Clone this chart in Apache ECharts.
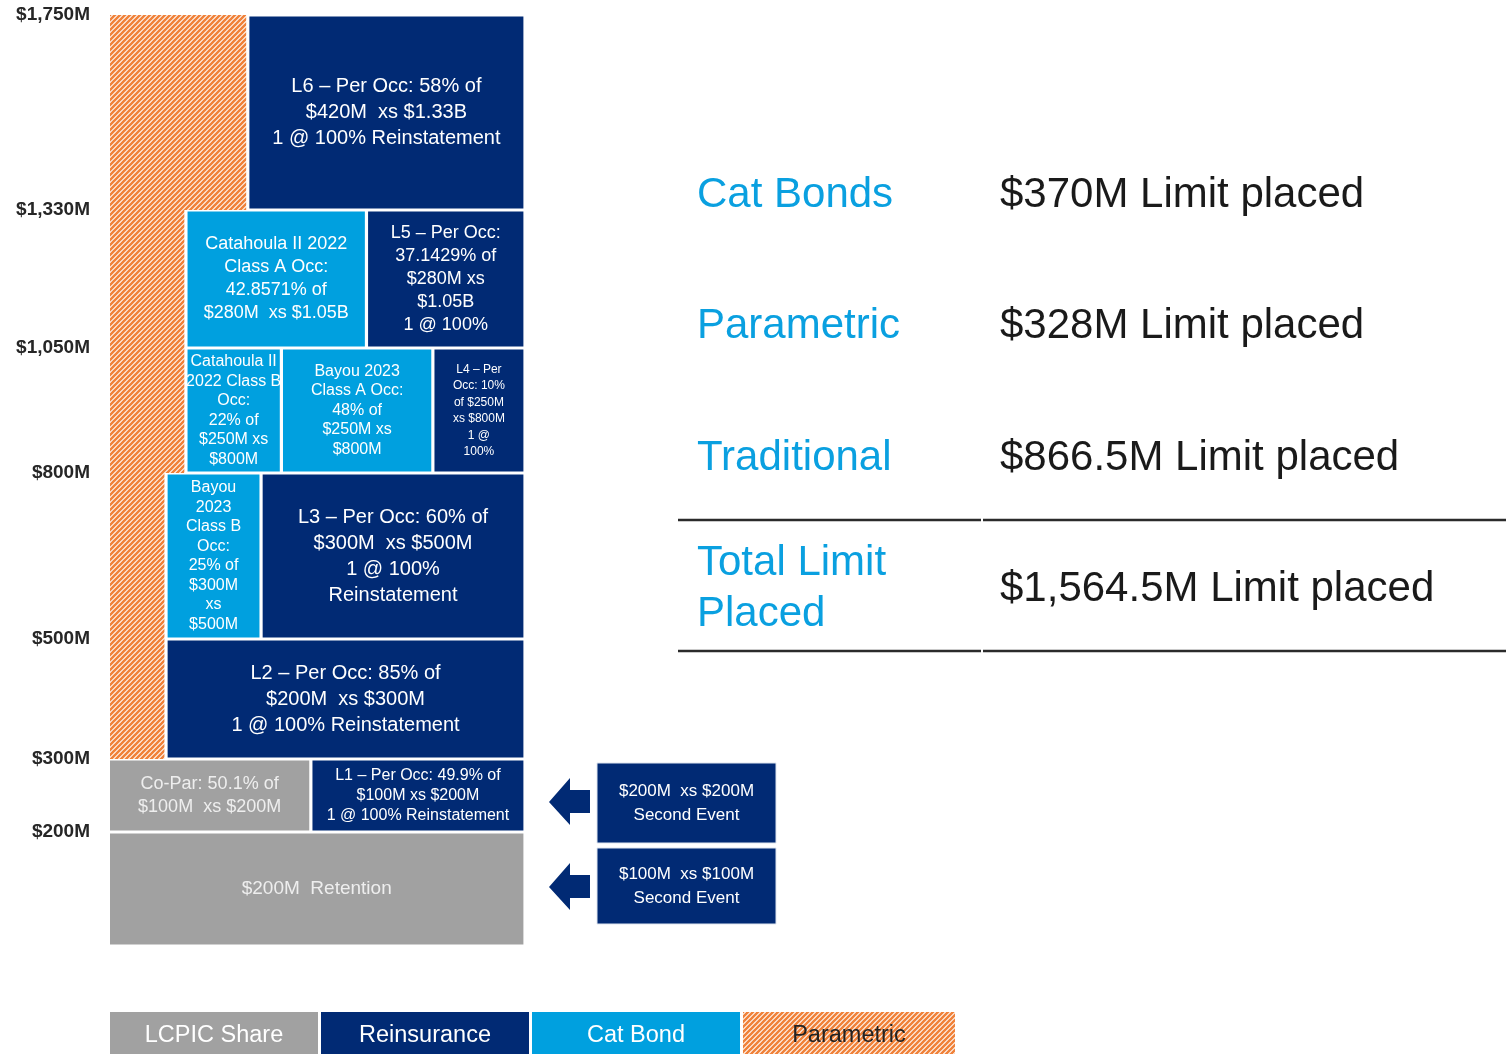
<!DOCTYPE html>
<html>
<head>
<meta charset="utf-8">
<title>Reinsurance tower</title>
<script src="https://cdn.jsdelivr.net/npm/echarts@6/dist/echarts.min.js"></script>
<style>
  html, body { margin: 0; padding: 0; background: #fff; }
  #chart { width: 1506px; height: 1054px; }
</style>
</head>
<body>
<div id="chart"></div>
<script>
// tower attachment points ($M) and their axis labels
const levels = [0, 200, 300, 500, 800, 1050, 1330, 1750];
const tickLabels = ['$200M', '$300M', '$500M', '$800M', '$1,050M', '$1,330M', '$1,750M'];

// one entry per block of the tower
const blockType = [
  'LCPIC Share', 'LCPIC Share', 'Reinsurance',
  'Parametric', 'Reinsurance',
  'Parametric', 'Cat Bond', 'Reinsurance',
  'Parametric', 'Cat Bond', 'Cat Bond', 'Reinsurance',
  'Parametric', 'Cat Bond', 'Reinsurance',
  'Parametric', 'Reinsurance'
];
const blockLow = [0, 200, 200, 300, 300, 500, 500, 500, 800, 800, 800, 800, 1050, 1050, 1050, 1330, 1330];
const blockHigh = [200, 300, 300, 500, 500, 800, 800, 800, 1050, 1050, 1050, 1050, 1330, 1330, 1330, 1750, 1750];
const blockText = [
  '$200M  Retention',
  'Co-Par: 50.1% of\n$100M  xs $200M',
  'L1 – Per Occ: 49.9% of\n$100M xs $200M\n1 @ 100% Reinstatement',
  '',
  'L2 – Per Occ: 85% of\n$200M  xs $300M\n1 @ 100% Reinstatement',
  '',
  'Bayou\n2023\nClass B\nOcc:\n25% of\n$300M\nxs\n$500M',
  'L3 – Per Occ: 60% of\n$300M  xs $500M\n1 @ 100%\nReinstatement',
  '',
  'Catahoula II\n2022 Class B\nOcc:\n22% of\n$250M xs\n$800M',
  'Bayou 2023\nClass A Occ:\n48% of\n$250M xs\n$800M',
  'L4 – Per\nOcc: 10%\nof $250M\nxs $800M\n1 @\n100%',
  '',
  'Catahoula II 2022\nClass A Occ:\n42.8571% of\n$280M  xs $1.05B',
  'L5 – Per Occ:\n37.1429% of\n$280M xs\n$1.05B\n1 @ 100%',
  '',
  'L6 – Per Occ: 58% of\n$420M  xs $1.33B\n1 @ 100% Reinstatement'
];

// summary table
const summaryNames = ['Cat Bonds', 'Parametric', 'Traditional', 'Total Limit\nPlaced'];
const summaryLimits = [370, 328, 866.5, 1564.5];

const secondEvents = ['$200M  xs $200M\nSecond Event', '$100M  xs $100M\nSecond Event'];
const legendNames = ['LCPIC Share', 'Reinsurance', 'Cat Bond', 'Parametric'];

// ---- layout / style ----
// display height of each band between levels (tower is not drawn to scale)
const bandWeight = [114, 73, 120, 166, 125, 138, 195];
// horizontal extent of each block across the tower, 0..100
const blockSpan = [
  [0, 100], [0, 48.4], [48.4, 100],
  [0, 13.5], [13.5, 100],
  [0, 13.5], [13.5, 36.4], [36.4, 100],
  [0, 18.3], [18.3, 41.3], [41.3, 77.8], [77.8, 100],
  [0, 18.3], [18.3, 61.8], [61.8, 100],
  [0, 33.2], [33.2, 100]
];
const blockFont = [19, 18, 16, 0, 20, 0, 16, 20, 0, 16, 16, 12, 0, 18, 18, 0, 20];
const blockLine = [22, 23, 20, 0, 26, 0, 19.5, 26, 0, 19.5, 19.5, 16.5, 0, 23, 23, 0, 26];

const NAVY = '#012a74';
const BLUE = '#00a0df';
const GREY = '#a1a1a1';
const ORANGE = '#f0823a';
const FONT = "'Liberation Sans', Arial, sans-serif";

const cum = [0];
bandWeight.forEach(function (w, i) { cum.push(cum[i] + w); });

function toScale(v) {
  for (let i = 0; i < levels.length - 1; i++) {
    if (v <= levels[i + 1]) {
      return cum[i] + (v - levels[i]) / (levels[i + 1] - levels[i]) * bandWeight[i];
    }
  }
  return cum[cum.length - 1];
}

// hatch for parametric
const hatch = document.createElement('canvas');
hatch.width = 5; hatch.height = 5;
(function () {
  const c = hatch.getContext('2d');
  c.fillStyle = '#fff';
  c.fillRect(0, 0, 5, 5);
  c.strokeStyle = ORANGE;
  c.lineWidth = 2.6;
  c.beginPath();
  c.moveTo(0, 5); c.lineTo(5, 0);
  c.moveTo(-1, 1); c.lineTo(1, -1);
  c.moveTo(4, 6); c.lineTo(6, 4);
  c.stroke();
})();
const hatchFill = { image: hatch, repeat: 'repeat' };

const typeFill = {
  'LCPIC Share': GREY,
  'Reinsurance': NAVY,
  'Cat Bond': BLUE,
  'Parametric': hatchFill
};

function makeSeries(type) {
  const idx = [];
  blockType.forEach(function (t, i) { if (t === type) idx.push(i); });
  return {
    type: 'custom',
    name: type,
    coordinateSystem: 'cartesian2d',
    data: idx.map(function (i) {
      return [blockSpan[i][0], blockSpan[i][1], blockLow[i], blockHigh[i]];
    }),
    renderItem: function (params, api) {
      const i = idx[params.dataIndex];
      const a = api.coord([api.value(0), toScale(api.value(3))]);
      const b = api.coord([api.value(1), toScale(api.value(2))]);
      const hatched = type === 'Parametric';
      const g = 1.6;
      const x = a[0] + (hatched || api.value(0) === 0 ? 0 : g);
      const y = a[1] + (hatched ? 0 : g);
      const w = b[0] - x - g;
      const h = b[1] - a[1] - (hatched ? 0 : 2 * g);
      const el = {
        type: 'rect',
        shape: { x: x, y: y, width: w, height: h },
        style: { fill: typeFill[type] }
      };
      if (blockText[i]) {
        el.textContent = {
          style: {
            text: blockText[i],
            fill: type === 'LCPIC Share' ? '#eeeeee' : '#ffffff',
            fontFamily: FONT,
            fontSize: blockFont[i],
            lineHeight: blockLine[i],
            align: 'center'
          }
        };
        el.textConfig = { position: 'inside' };
      }
      return el;
    }
  };
}

const chart = echarts.init(document.getElementById('chart'));

const graphics = [];

// summary table on the right
const rowY = [195, 326, 458, 589];
summaryNames.forEach(function (n, i) {
  graphics.push({
    type: 'text', x: 697, y: rowY[i], z: 10,
    style: {
      text: n, fill: '#0aa0e0', fontFamily: FONT, fontSize: 42,
      lineHeight: 51, verticalAlign: 'middle'
    }
  });
  graphics.push({
    type: 'text', x: 1000, y: rowY[i], z: 10,
    style: {
      text: '$' + summaryLimits[i].toLocaleString('en-US') + 'M Limit placed',
      fill: '#1a1a1a', fontFamily: FONT, fontSize: 42, verticalAlign: 'middle'
    }
  });
});
[520, 651].forEach(function (y) {
  graphics.push({ type: 'line', shape: { x1: 678, y1: y, x2: 981, y2: y }, style: { stroke: '#2b2b2b', lineWidth: 2.5 } });
  graphics.push({ type: 'line', shape: { x1: 983, y1: y, x2: 1506, y2: y }, style: { stroke: '#2b2b2b', lineWidth: 2.5 } });
});

// second event boxes with arrows
const evTop = [763, 848];
const evH = [80, 76];
secondEvents.forEach(function (t, i) {
  graphics.push({
    type: 'rect', shape: { x: 597, y: evTop[i], width: 179, height: evH[i] },
    style: { fill: NAVY, stroke: '#dfe5ef', lineWidth: 1 },
    textContent: {
      style: { text: t, fill: '#fff', fontFamily: FONT, fontSize: 17, lineHeight: 24, align: 'center' }
    },
    textConfig: { position: 'inside' }
  });
  const cy = [802, 887][i];
  graphics.push({
    type: 'polygon',
    shape: {
      points: [[549, cy], [570, cy - 24], [570, cy - 12], [590, cy - 12],
               [590, cy + 11], [570, cy + 11], [570, cy + 23]]
    },
    style: { fill: NAVY }
  });
});

// legend boxes
const legX = [110, 321, 532, 743];
const legW = [208, 208, 208, 212];
legendNames.forEach(function (n, i) {
  graphics.push({
    type: 'rect', shape: { x: legX[i], y: 1012, width: legW[i], height: 48 },
    style: { fill: typeFill[n] },
    textContent: {
      style: {
        text: n, fill: n === 'Parametric' ? '#222' : '#fff',
        fontFamily: FONT, fontSize: 23.5
      }
    },
    textConfig: { position: 'inside' }
  });
});

chart.setOption({
  animation: false,
  grid: { left: 110, right: 981, top: 15, bottom: 108 },
  xAxis: { type: 'value', min: 0, max: 100, show: false },
  yAxis: {
    type: 'value',
    min: 0,
    max: cum[cum.length - 1],
    axisLine: { show: false },
    axisTick: { show: false },
    splitLine: { show: false },
    axisLabel: {
      customValues: levels.slice(1).map(toScale),
      margin: 20,
      color: '#262626',
      fontFamily: FONT,
      fontWeight: 'bold',
      fontSize: 19,
      formatter: function (v) {
        let best = 0;
        levels.slice(1).forEach(function (l, k) {
          if (Math.abs(toScale(l) - v) < Math.abs(toScale(levels[best + 1]) - v)) best = k;
        });
        return tickLabels[best];
      }
    }
  },
  series: legendNames.map(makeSeries),
  graphic: graphics
});
</script>
</body>
</html>
